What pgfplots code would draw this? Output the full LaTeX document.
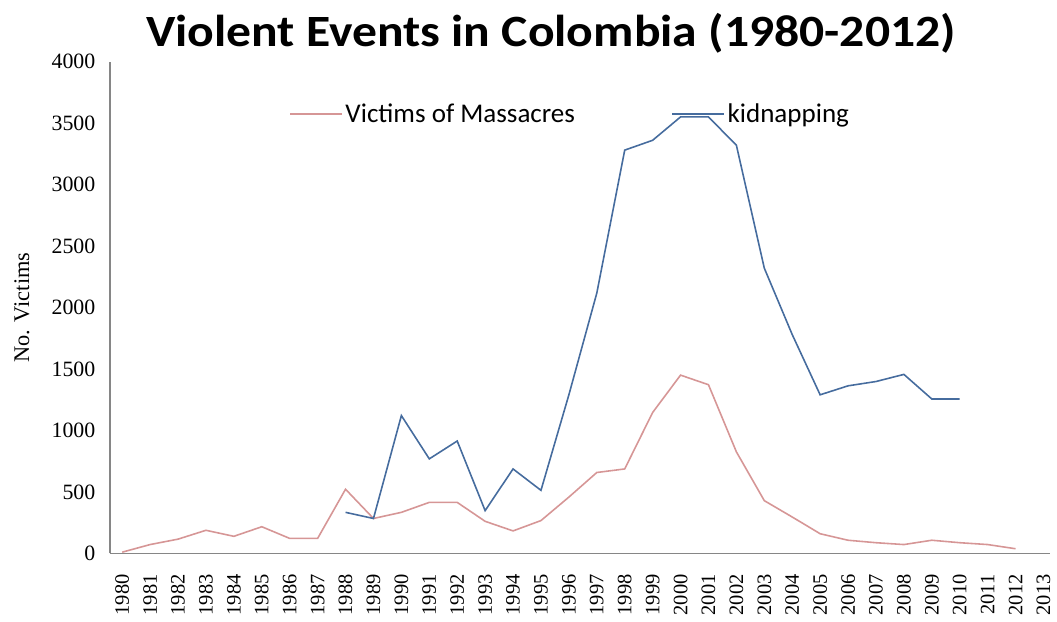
\documentclass[border=0pt]{standalone}
\usepackage{fontspec}
\setmainfont{Liberation Serif}
\newfontfamily\calibri{Carlito}
\usepackage{pgfplots}
\pgfplotsset{compat=1.18}

\definecolor{massacre}{RGB}{214,150,150}
\definecolor{kidnap}{RGB}{70,108,158}
\definecolor{axisgray}{RGB}{134,134,134}

\pgfplotstableread{
idx victims
0 10
1 72
2 116
3 188
4 139
5 217
6 122
7 122
8 522
9 284
10 334
11 415
12 415
13 261
14 183
15 267
16 458
17 658
18 687
19 1146
20 1450
21 1372
22 826
23 429
24 296
25 160
26 107
27 87
28 72
29 107
30 87
31 72
32 38
}\massacres

\pgfplotstableread{
idx victims
8 334
9 284
10 1121
11 769
12 914
13 348
14 687
15 513
16 1290
17 2117
18 3280
19 3360
20 3550
21 3550
22 3320
23 2320
24 1780
25 1290
26 1363
27 1398
28 1456
29 1256
30 1256
}\kidnapping

\begin{document}
\begin{tikzpicture}
\begin{axis}[
  scale only axis,
  width=473pt, height=247.5pt,
  xmin=-0.427, xmax=33.24,
  ymin=0, ymax=4000,
  axis x line*=bottom,
  axis y line*=left,
  axis line style={axisgray, line width=0.8pt, -},
  major tick length=0pt,
  xtick={0,...,33},
  xticklabels={1980,1981,1982,1983,1984,1985,1986,1987,1988,1989,1990,1991,1992,1993,1994,1995,1996,1997,1998,1999,2000,2001,2002,2003,2004,2005,2006,2007,2008,2009,2010,2011,2012,2013},
  x tick label style={rotate=90, anchor=east, font=\fontsize{10.3}{12}\selectfont},
  xticklabel shift=7pt,
  ytick={0,500,...,4000},
  y tick label style={font=\fontsize{11}{13}\selectfont},
  yticklabel shift=4pt,
  /pgf/number format/assume math mode=true,
  /pgf/number format/set thousands separator={},
  scaled y ticks=false,
  clip=false,
  legend columns=2,
  legend style={draw=none, fill=none, at={(rel axis cs:0.190,0.893)}, anchor=west,
    font=\calibri\fontsize{13.6}{15}\selectfont,
    nodes={inner xsep=1.5pt},
    /tikz/every even column/.append style={column sep=47pt},
    inner sep=0pt},
  legend cell align=left,
  legend image code/.code={\draw[#1] (0pt,0pt) -- (26pt,0pt);},
]
\addplot[massacre, line width=0.8pt] table[x=idx, y=victims] {\massacres};
\addlegendentry{Victims of Massacres}
\addplot[kidnap, line width=0.8pt] table[x=idx, y=victims] {\kidnapping};
\addlegendentry{kidnapping}
\node[font=\calibri\bfseries\fontsize{22.5}{27}\selectfont, xscale=1.11, anchor=center]
  at (rel axis cs:0.469,1.058) {Violent Events in Colombia (1980-2012)};
\node[font=\fontsize{11.25}{13}\selectfont, rotate=90, anchor=center]
  at ([xshift=-44.5pt]rel axis cs:0,0.5) {No. Victims};
\end{axis}
\path[use as bounding box] (-55.5pt,-30.5pt) rectangle (473pt,278.5pt);
\end{tikzpicture}
\end{document}
